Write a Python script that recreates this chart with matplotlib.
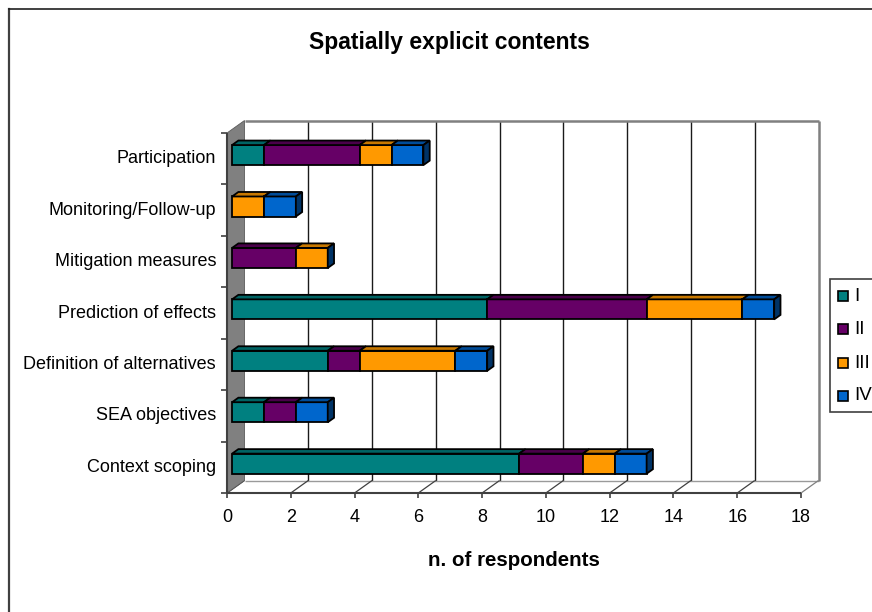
import matplotlib
matplotlib.use("Agg")
import matplotlib.pyplot as plt
from matplotlib.patches import Polygon, Rectangle
from matplotlib.lines import Line2D

plt.rcParams['font.family'] = ['Liberation Sans', 'DejaVu Sans']

# ---- data -------------------------------------------------------------
categories = ["Context scoping", "SEA objectives", "Definition of alternatives",
              "Prediction of effects", "Mitigation measures",
              "Monitoring/Follow-up", "Participation"]
series_names = ["I", "II", "III", "IV"]
series_I = [9, 1, 3, 8, 0, 0, 1]
series_II = [2, 1, 1, 5, 2, 0, 3]
series_III = [1, 0, 3, 3, 1, 1, 1]
series_IV = [1, 1, 1, 1, 0, 1, 1]
x_ticks = [0, 2, 4, 6, 8, 10, 12, 14, 16, 18]

title = "Spatially explicit contents"
x_label = "n. of respondents"

# ---- style ------------------------------------------------------------
face_colors = ["#008080", "#660066", "#FF9900", "#0066CC"]
top_colors = ["#006464", "#4A004A", "#C87800", "#004C99"]
end_color = "#003366"

W, H = 872, 612
fig = plt.figure(figsize=(W / 100, H / 100), dpi=100)


def fx(px):
    return px / W


def fy(py):
    return 1 - py / H


# front plane of the 3-D box
X0, X1, YT, YB = 227, 801, 133, 493
ax = fig.add_axes([fx(X0), fy(YB), fx(X1) - fx(X0), fy(YT) - fy(YB)])
xmax = x_ticks[-1]
ncat = len(categories)
ax.set_xlim(0, xmax)
ax.set_ylim(0, ncat)
ax.axis('off')

px_per_x = (X1 - X0) / xmax
px_per_y = (YB - YT) / ncat
DX = 17.5 / px_per_x   # depth offset in value units
DY = 12.5 / px_per_y   # depth offset in category units


def P(x, y, d):
    return (x + d * DX, y + d * DY)


def poly(pts, fc, ec, lw, z):
    ax.add_patch(Polygon(pts, closed=True, facecolor=fc, edgecolor=ec,
                         linewidth=lw, zorder=z, clip_on=False,
                         joinstyle='miter'))


def line(p, q, color, lw, z):
    ax.add_line(Line2D([p[0], q[0]], [p[1], q[1]], color=color,
                       linewidth=lw, zorder=z, clip_on=False,
                       solid_capstyle='butt'))


# back wall
poly([P(0, 0, 1), P(xmax, 0, 1), P(xmax, ncat, 1), P(0, ncat, 1)],
     'white', 'none', 0, 1)
for v in x_ticks[1:-1]:
    line(P(v, 0, 1), P(v, ncat, 1), '#1a1a1a', 1.0, 2)
line(P(0, ncat, 1), P(xmax, ncat, 1), '#808080', 1.8, 3)
line(P(xmax, 0, 1), P(xmax, ncat, 1), '#808080', 1.8, 3)

# floor
poly([P(0, 0, 0), P(xmax, 0, 0), P(xmax, 0, 1), P(0, 0, 1)], 'white', 'none', 0, 1)
line(P(0, 0, 1), P(xmax, 0, 1), '#9a9a9a', 1.0, 2)
for v in x_ticks:
    line(P(v, 0, 0), P(v, 0, 1), '#404040' if v < xmax else '#808080', 0.9, 2)

# side wall
poly([P(0, 0, 0), P(0, ncat, 0), P(0, ncat, 1), P(0, 0, 1)], '#808080', '#5a5a5a', 0.6, 3)

# axis lines and ticks
line(P(0, 0, 0), P(xmax, 0, 0), '#404040', 1.5, 4)
line(P(0, 0, 0), P(0, ncat, 0), '#404040', 1.5, 4)
tick_x = 5 / px_per_y
tick_y = 6 / px_per_x
for v in x_ticks:
    line((v, 0), (v, -tick_x), '#404040', 1.2, 4)
    ax.annotate(str(v), (v, 0), xytext=(0, -24), textcoords='offset pixels',
                ha='center', va='center', fontsize=13, color='black',
                annotation_clip=False)
for k in range(ncat + 1):
    line((0, k), (-tick_y, k), '#404040', 1.2, 4)
for i, cat in enumerate(categories):
    ax.annotate(cat, (0, i + 0.5), xytext=(-11, 0), textcoords='offset pixels',
                ha='right', va='center', fontsize=13, color='black',
                annotation_clip=False)

# stacked 3-D bars
series = [series_I, series_II, series_III, series_IV]
bar_h = 0.39
d0, d1 = 0.29, 0.65
for i in range(ncat):
    c = i + 0.5
    lo, hi = c - bar_h / 2, c + bar_h / 2
    left = 0
    for s, vals in enumerate(series):
        w = vals[i]
        if w > 0:
            poly([P(left, lo, d0), P(left + w, lo, d0),
                  P(left + w, hi, d0), P(left, hi, d0)],
                 face_colors[s], 'black', 1.3, 5)
            poly([P(left, hi, d0), P(left + w, hi, d0),
                  P(left + w, hi, d1), P(left, hi, d1)],
                 top_colors[s], 'black', 1.3, 5)
        left += w
    poly([P(left, lo, d0), P(left, hi, d0), P(left, hi, d1), P(left, lo, d1)],
         end_color, 'black', 1.3, 6)

# titles
fig.text(fx(449), fy(42), title, ha='center', va='center',
         fontsize=16.5, fontweight='bold')
fig.text(fx(514), fy(560), x_label, ha='center', va='center',
         fontsize=14.8, fontweight='bold')

# legend box
fig.add_artist(Rectangle((fx(830), fy(412)), fx(60), fy(279) - fy(412),
                         transform=fig.transFigure, facecolor='white',
                         edgecolor='#404040', linewidth=1.2, clip_on=False))
leg_y = [296, 329.5, 363, 396]
for s, name in enumerate(series_names):
    fig.add_artist(Rectangle((fx(837.5), fy(leg_y[s] + 5)), fx(10), fy(0) - fy(10),
                             transform=fig.transFigure, facecolor=face_colors[s],
                             edgecolor='black', linewidth=1.2))
    fig.text(fx(854), fy(leg_y[s]), name, ha='left', va='center', fontsize=13.5)

# chart frame
fig.add_artist(Line2D([fx(8.5), fx(8.5)], [fy(9), fy(640)], transform=fig.transFigure,
                      color='#404040', linewidth=1.6))
fig.add_artist(Line2D([fx(8.5), fx(890)], [fy(9), fy(9)], transform=fig.transFigure,
                      color='#202020', linewidth=1.2))

fig.savefig("out.png", dpi=100)
